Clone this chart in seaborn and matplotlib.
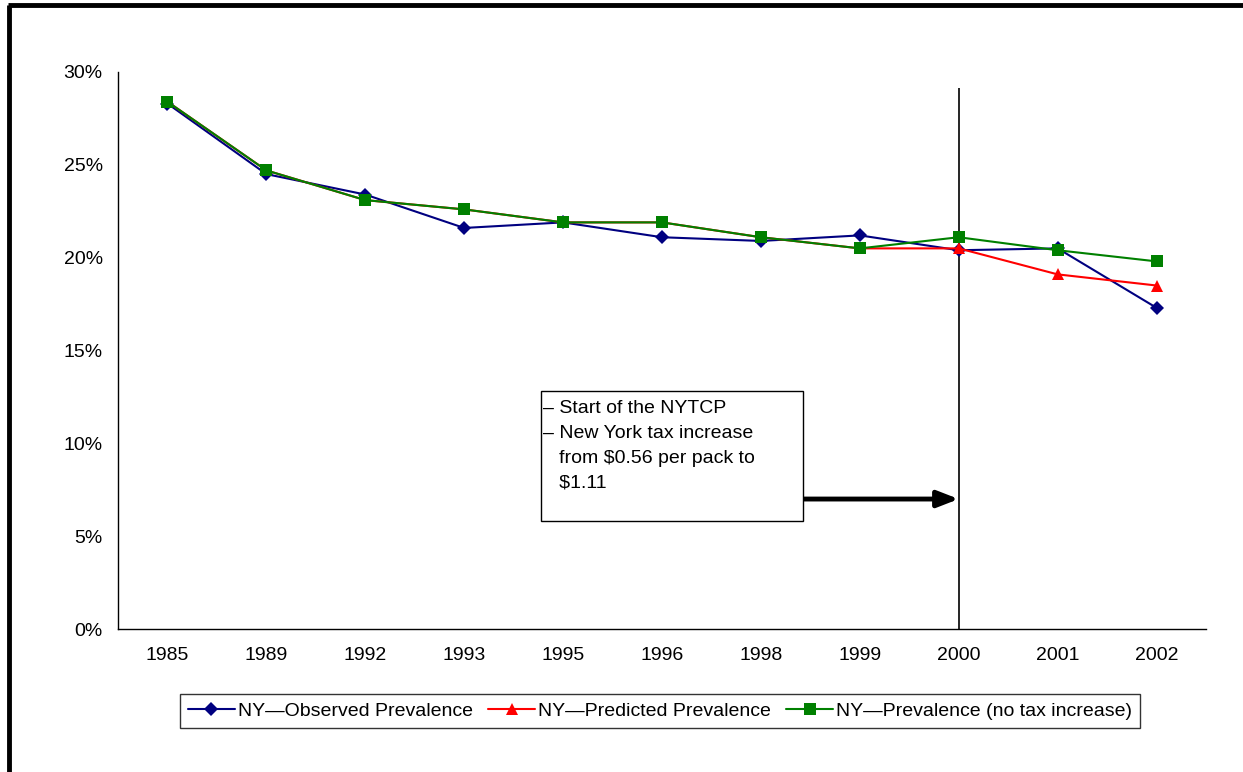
import pandas as pd
import matplotlib.pyplot as plt
import matplotlib.patches as mpatches
import matplotlib.lines as mlines
import seaborn as sns
import numpy as np

years = ["1985", "1989", "1992", "1993", "1995", "1996", "1998", "1999", "2000", "2001", "2002"]
observed = [28.3, 24.5, 23.4, 21.6, 21.9, 21.1, 20.9, 21.2, 20.4, 20.5, 17.3]
predicted = [28.4, 24.7, 23.1, 22.6, 21.9, 21.9, 21.1, 20.5, 20.5, 19.1, 18.5]
no_tax = [28.4, 24.7, 23.1, 22.6, 21.9, 21.9, 21.1, 20.5, 21.1, 20.4, 19.8]
series_names = ["NY\u2014Observed Prevalence", "NY\u2014Predicted Prevalence",
                "NY\u2014Prevalence (no tax increase)"]
colors = ["#000080", "#ff0000", "#008000"]
markers = ["D", "^", "s"]
msizes = [7.5, 8.5, 8]

sns.set_style("white")
plt.rcParams["font.family"] = ["Liberation Sans", "DejaVu Sans"]
plt.rcParams["text.color"] = "black"
plt.rcParams["xtick.color"] = "black"
plt.rcParams["ytick.color"] = "black"

fig = plt.figure(figsize=(12.43, 7.72), dpi=100)
ax = fig.add_axes([118 / 1243, 1 - 629 / 772, (1206 - 118) / 1243, (629 - 72) / 772])

pos = np.arange(len(years))
for vals, name, c, m, ms in zip([observed, predicted, no_tax], series_names, colors, markers, msizes):
    df = pd.DataFrame({"pos": pos, "value": np.array(vals) / 100})
    sns.lineplot(data=df, x="pos", y="value", ax=ax, color=c, marker=m, markersize=ms,
                 markeredgecolor=c, markeredgewidth=0, linewidth=1.5, label=name)

ax.set_xlim(-0.5, len(years) - 0.5)
ax.set_ylim(0, 0.30)
ax.set_yticks(np.arange(0, 0.301, 0.05))
ax.set_yticklabels([f"{int(round(v * 100))}%" for v in np.arange(0, 0.301, 0.05)], fontsize=14)
ax.set_xticks(pos)
ax.set_xticklabels(years, fontsize=14)
ax.set_xticks(np.arange(-0.5, len(years), 1), minor=True)
ax.tick_params(axis="x", which="major", length=0, pad=13)
ax.tick_params(axis="x", which="minor", length=6, width=1, color="black", direction="out")
ax.tick_params(axis="y", which="major", length=6, width=1, color="black", direction="out", pad=5)
ax.set_xlabel("")
ax.set_ylabel("")
for s in ["top", "right"]:
    ax.spines[s].set_visible(False)
for s in ["left", "bottom"]:
    ax.spines[s].set_color("black")
    ax.spines[s].set_linewidth(1)

# event line at 2000
ax.vlines(years.index("2000"), 0, 0.2915, color="black", linewidth=1.2, zorder=1)

# annotation box
box = mpatches.Rectangle((541 / 1243, 1 - 521 / 772), (803 - 541) / 1243, (521 - 391) / 772,
                         transform=fig.transFigure, facecolor="white", edgecolor="black",
                         linewidth=1, zorder=5)
fig.add_artist(box)
fig.text(543 / 1243, 1 - 400 / 772,
         "\u2013 Start of the NYTCP\n\u2013 New York tax increase\n   from \\$0.56 per pack to\n   \\$1.11",
         fontsize=14, va="top", ha="left", linespacing=1.6, zorder=6)
ax.annotate("", xy=(years.index("2000"), 0.07), xytext=(6.43, 0.07),
            arrowprops=dict(arrowstyle="-|>,head_length=0.9,head_width=0.35", color="black",
                            lw=3.5, mutation_scale=14, shrinkA=0, shrinkB=0), zorder=6)

leg = ax.legend(loc="center", bbox_to_anchor=(660 / 1243, 1 - 711 / 772),
                bbox_transform=fig.transFigure, ncol=3, fontsize=14, frameon=True,
                fancybox=False, edgecolor="black", handlelength=2.4, columnspacing=0.8,
                handletextpad=0.15, borderpad=0.4, borderaxespad=0)
leg.get_frame().set_linewidth(1)

# outer border on left and top
fig.add_artist(mlines.Line2D([9 / 1243, 9 / 1243], [0, 1 - 5 / 772], transform=fig.transFigure,
                             color="black", linewidth=3.5, solid_capstyle="butt"))
fig.add_artist(mlines.Line2D([7.5 / 1243, 1], [1 - 5 / 772, 1 - 5 / 772], transform=fig.transFigure,
                             color="black", linewidth=3.5, solid_capstyle="butt"))

fig.savefig("out.png", dpi=100)
